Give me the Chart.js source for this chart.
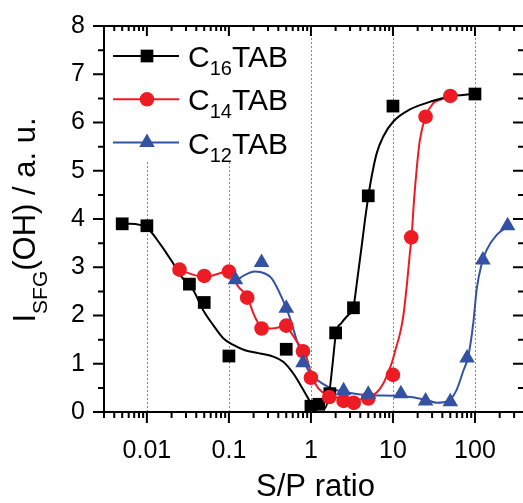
<!DOCTYPE html>
<html>
<head>
<meta charset="utf-8">
<script src="https://cdn.jsdelivr.net/npm/chart.js@4.4.1/dist/chart.umd.min.js"></script>
<style>
  html, body { margin: 0; padding: 0; background: #fff; overflow: hidden; }
  #wrap { width: 523px; height: 503px; position: relative; }
</style>
</head>
<body>
<div id="wrap"><canvas id="chart"></canvas></div>
<script>
// measured points (S/P ratio, I_SFG)
const c16X = [0.005, 0.01, 0.033, 0.05, 0.1, 0.5, 1, 1.25, 1.7, 2, 3.3, 5, 10, 100];
const c16Y = [3.90, 3.86, 2.65, 2.27, 1.16, 1.30, 0.12, 0.16, 0.38, 1.64, 2.16, 4.48, 6.34, 6.59];
const c14X = [0.025, 0.05, 0.1, 0.167, 0.25, 0.5, 0.8, 1, 1.67, 2.5, 3.33, 5, 10, 16.7, 25, 50];
const c14Y = [2.95, 2.82, 2.91, 2.37, 1.73, 1.79, 1.26, 0.71, 0.31, 0.23, 0.19, 0.28, 0.77, 3.62, 6.12, 6.55];
const c12X = [0.12, 0.25, 0.5, 0.8, 2.5, 5, 12.5, 25, 50, 80, 125, 250];
const c12Y = [2.74, 3.10, 2.15, 1.02, 0.44, 0.37, 0.38, 0.23, 0.21, 1.12, 3.15, 3.86];

// fitted curves
const c16FitX = [0.005, 0.0062, 0.0101, 0.0144, 0.0209, 0.0265, 0.0367, 0.0486, 0.0644, 0.0852, 0.113, 0.157, 0.228, 0.332, 0.459, 0.608, 0.77, 0.927, 1.07,
  1.48, 1.67, 1.84, 2.02, 2.37, 2.85, 3.28, 3.67, 4.15, 4.56, 5.0, 5.5, 6.33, 7.62, 10.1, 16.1, 31.0, 49.5, 95];
const c16FitY = [3.90, 3.90, 3.81, 3.49, 3.08, 2.80, 2.53, 2.11, 1.80, 1.53, 1.39, 1.28, 1.22, 1.16, 1.04, 0.80, 0.52, 0.28, 0.08,
  0.08, 0.39, 1.01, 1.63, 1.85, 2.01, 2.15, 2.74, 3.43, 3.98, 4.46, 4.88, 5.36, 5.71, 6.02, 6.27, 6.45, 6.54, 6.59];
const c14FitX = [0.025, 0.05, 0.1, 0.13, 0.169, 0.198, 0.228, 0.255, 0.332, 0.506, 0.582, 0.70, 0.828, 0.927, 1.02, 1.23, 1.63, 2.48, 3.61, 5.24,
  6.38, 7.62, 8.69, 9.64, 10.9, 12.2, 13.4, 14.7, 16.1, 16.9, 18.0, 19.5, 21.3, 25.0, 31.0, 37.4, 49.5];
const c14FitY = [2.94, 2.80, 2.91, 2.60, 2.37, 2.05, 1.84, 1.73, 1.73, 1.78, 1.63, 1.42, 1.28, 1.01, 0.75, 0.49, 0.35, 0.28, 0.25, 0.32,
  0.41, 0.59, 0.81, 1.01, 1.33, 1.63, 2.0, 2.6, 3.3, 3.65, 4.35, 5.05, 5.64, 6.12, 6.40, 6.47, 6.55];
const c12FitX = [0.118, 0.157, 0.208, 0.275, 0.332, 0.399, 0.506, 0.582, 0.67, 0.77, 0.845, 1.02, 1.35, 1.96, 2.48, 4.78, 12.2, 25.8, 34.1, 41,
  49.5, 59.8, 72, 82.8, 95.3, 105, 121, 139, 184, 248];
const c12FitY = [2.70, 2.84, 2.91, 2.87, 2.77, 2.53, 2.13, 1.84, 1.49, 1.22, 1.0, 0.77, 0.60, 0.46, 0.42, 0.35, 0.33, 0.25, 0.19, 0.20,
  0.25, 0.46, 0.85, 1.15, 1.84, 2.55, 3.08, 3.36, 3.67, 3.84];

const seriesNames = ['C16TAB', 'C14TAB', 'C12TAB'];
const seriesColors = ['#000000', '#ed1c24', '#3352a4'];
const xTickValues = [0.01, 0.1, 1, 10, 100];
const xTickLabels = ['0.01', '0.1', '1', '10', '100'];
const yTickLabels = ['0', '1', '2', '3', '4', '5', '6', '7', '8'];

const FONT = "'Liberation Sans', Arial, sans-serif";
Chart.defaults.font.family = FONT;
Chart.defaults.color = '#000';

const pairs = (xs, ys) => xs.map((v, i) => ({ x: v, y: ys[i] }));

function fitSet(xs, ys, color) {
  return {
    data: pairs(xs, ys),
    showLine: true,
    borderColor: color,
    borderWidth: 2,
    pointRadius: 0,
    cubicInterpolationMode: 'monotone',
    order: 10
  };
}

function markerSet(label, xs, ys, color, style, r, order) {
  return {
    label: label,
    data: pairs(xs, ys),
    showLine: false,
    backgroundColor: color,
    borderColor: color,
    borderWidth: 0,
    pointStyle: style,
    pointRadius: r,
    order: order
  };
}

function drawMarker(ctx, style, x, y, r) {
  ctx.beginPath();
  if (style === 'rect') {
    const s = r * Math.SQRT1_2;
    ctx.rect(x - s, y - s, 2 * s, 2 * s);
  } else if (style === 'circle') {
    ctx.arc(x, y, r, 0, Math.PI * 2);
  } else {
    ctx.moveTo(x, y - r);
    ctx.lineTo(x + 0.866 * r, y + 0.5 * r);
    ctx.lineTo(x - 0.866 * r, y + 0.5 * r);
    ctx.closePath();
  }
  ctx.fill();
}

// text with marked parts lowered as subscripts
function drawRich(ctx, parts, x, y, size, subSize, shift) {
  let cx = x;
  parts.forEach(p => {
    ctx.font = (p.sub ? subSize : size) + 'px ' + FONT;
    ctx.fillText(p.t, cx, y + (p.sub ? shift : 0));
    cx += ctx.measureText(p.t).width;
  });
  return cx - x;
}
function richWidth(ctx, parts, size, subSize) {
  let w = 0;
  parts.forEach(p => {
    ctx.font = (p.sub ? subSize : size) + 'px ' + FONT;
    w += ctx.measureText(p.t).width;
  });
  return w;
}
const splitSub = s => s.split(/(\d+)/).filter(t => t).map(t => ({ t: t, sub: /^\d+$/.test(t) }));

const framePlugin = {
  id: 'frame',
  beforeDatasetsDraw(chart) {
    const { ctx, chartArea: a, scales: { x } } = chart;
    ctx.save();
    ctx.strokeStyle = '#8a8a8a';
    ctx.lineWidth = 1;
    ctx.setLineDash([2, 2]);
    xTickValues.forEach(v => {
      const px = Math.round(x.getPixelForValue(v)) + 0.5;
      ctx.beginPath();
      ctx.moveTo(px, a.top);
      ctx.lineTo(px, a.bottom);
      ctx.stroke();
    });
    ctx.setLineDash([]);
    // legend background
    ctx.fillStyle = '#fff';
    ctx.fillRect(a.left + 2, a.top + 2, 194, 134);
    ctx.restore();
  },
  afterDraw(chart) {
    const { ctx, chartArea: a, scales: { x, y } } = chart;
    ctx.save();
    ctx.strokeStyle = '#000';
    ctx.fillStyle = '#000';
    ctx.lineWidth = 2;
    ctx.lineCap = 'butt';

    // axis lines
    ctx.beginPath();
    ctx.moveTo(a.left, a.top - 1);
    ctx.lineTo(a.left, a.bottom + 1);
    ctx.moveTo(a.left - 1, a.bottom);
    ctx.lineTo(a.right, a.bottom);
    ctx.moveTo(a.left - 1, a.top);
    ctx.lineTo(a.right, a.top);
    ctx.stroke();

    // y ticks: outward on left, inward on right
    ctx.beginPath();
    for (let v = 0; v <= 8; v += 0.5) {
      const py = y.getPixelForValue(v);
      const major = Number.isInteger(v);
      ctx.moveTo(a.left - (major ? 11 : 6), py);
      ctx.lineTo(a.left, py);
      ctx.moveTo(a.right, py);
      ctx.lineTo(a.right - (major ? 10 : 5), py);
    }
    // x ticks: outward at bottom, inward at top
    for (let d = -3; d <= 2; d++) {
      for (let m = 1; m <= 9; m++) {
        const v = m * Math.pow(10, d);
        if (v < x.min * 0.999 || v > x.max) continue;
        const px = x.getPixelForValue(v);
        const major = m === 1;
        ctx.moveTo(px, a.bottom);
        ctx.lineTo(px, a.bottom + (major ? 11 : 6));
        ctx.moveTo(px, a.top);
        ctx.lineTo(px, a.top + (major ? 10 : 5));
      }
    }
    ctx.stroke();

    // legend
    const markers = chart.data.datasets.filter(ds => ds.label);
    markers.forEach((ds, i) => {
      const cy = a.top + 30 + i * 43.3;
      ctx.strokeStyle = ds.borderColor;
      ctx.fillStyle = ds.backgroundColor;
      ctx.beginPath();
      ctx.moveTo(a.left + 9, cy);
      ctx.lineTo(a.left + 75, cy);
      ctx.stroke();
      drawMarker(ctx, ds.pointStyle, a.left + 43, cy, ds.pointRadius);
      ctx.fillStyle = '#000';
      ctx.textAlign = 'left';
      ctx.textBaseline = 'alphabetic';
      drawRich(ctx, splitSub(ds.label), a.left + 84, cy + 11, 30, 20, 8);
    });

    // axis titles
    ctx.fillStyle = '#000';
    ctx.textAlign = 'left';
    ctx.textBaseline = 'alphabetic';
    ctx.font = '31px ' + FONT;
    const xt = 'S/P ratio';
    ctx.fillText(xt, (a.left + a.right) / 2 + 2 - ctx.measureText(xt).width / 2, 496);

    const yParts = [{ t: 'I' }, { t: 'SFG', sub: true }, { t: '(OH) / a. u.' }];
    const w = richWidth(ctx, yParts, 31, 21);
    ctx.translate(35, (a.top + a.bottom) / 2 + 1 + w / 2);
    ctx.rotate(-Math.PI / 2);
    drawRich(ctx, yParts, 0, 0, 31, 21, 12);
    ctx.restore();
  }
};

const ctx = document.getElementById('chart').getContext('2d');
new Chart(ctx, {
  type: 'scatter',
  data: {
    datasets: [
      fitSet(c16FitX, c16FitY, seriesColors[0]),
      fitSet(c14FitX, c14FitY, seriesColors[1]),
      fitSet(c12FitX, c12FitY, seriesColors[2]),
      markerSet(seriesNames[0], c16X, c16Y, seriesColors[0], 'rect', 9, 3),
      markerSet(seriesNames[1], c14X, c14Y, seriesColors[1], 'circle', 7.3, 2),
      markerSet(seriesNames[2], c12X, c12Y, seriesColors[2], 'triangle', 9, 1)
    ]
  },
  options: {
    responsive: true,
    maintainAspectRatio: false,
    animation: false,
    layout: { autoPadding: false, padding: { top: 26, right: 0, left: 0, bottom: 0 } },
    plugins: { legend: { display: false }, tooltip: { enabled: false } },
    scales: {
      x: {
        type: 'logarithmic',
        min: 0.003,
        max: 385,
        afterFit(s) {
          s.height = 91;
          s.paddingLeft = 0;
          s.paddingRight = 0;
        },
        afterBuildTicks(s) { s.ticks = xTickValues.map(v => ({ value: v })); },
        grid: { display: false, drawTicks: false },
        border: { display: false },
        ticks: {
          autoSkip: false,
          maxRotation: 0,
          padding: 24,
          font: { size: 25 },
          callback: (v, i) => xTickLabels[i]
        }
      },
      y: {
        min: 0,
        max: 8,
        afterFit(s) {
          s.width = 104;
          s.paddingTop = 0;
          s.paddingBottom = 0;
        },
        grid: { display: false, drawTicks: false },
        border: { display: false },
        ticks: {
          stepSize: 1,
          padding: 19,
          font: { size: 25 },
          callback: (v, i) => yTickLabels[i]
        }
      }
    }
  },
  plugins: [framePlugin]
});
</script>
</body>
</html>
